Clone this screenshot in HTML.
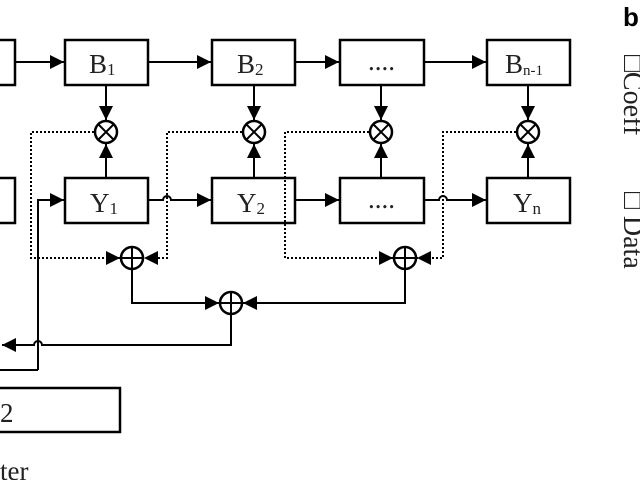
<!DOCTYPE html>
<html><head><meta charset="utf-8"><style>
html,body{margin:0;padding:0;background:#fff;width:640px;height:480px;overflow:hidden}
</style></head><body>
<svg width="640" height="480" viewBox="0 0 640 480" xmlns="http://www.w3.org/2000/svg" font-family="Liberation Serif, serif">
<defs>
<marker id="b" viewBox="0 0 10 10" refX="10" refY="5" markerWidth="14" markerHeight="14" markerUnits="userSpaceOnUse" orient="auto"><path d="M0,0 L10,5 L0,10z" fill="#000"/></marker>
</defs>
<g stroke="#000" stroke-width="2.5" fill="#fff">
<rect x="-5" y="40" width="20" height="45"/>
<rect x="65" y="40" width="83" height="45"/>
<rect x="212" y="40" width="83" height="45"/>
<rect x="340" y="40" width="84" height="45"/>
<rect x="487" y="40" width="83" height="45"/>
<rect x="-5" y="178" width="20" height="45"/>
<rect x="65" y="178" width="83" height="45"/>
<rect x="212" y="178" width="83" height="45"/>
<rect x="340" y="178" width="84" height="45"/>
<rect x="487" y="178" width="83" height="45"/>
<rect x="-5" y="388" width="125" height="44"/>
</g>
<g stroke="#000" stroke-width="2" fill="none" marker-end="url(#b)">
<line x1="15" y1="62" x2="64" y2="62"/>
<line x1="148" y1="62" x2="211" y2="62"/>
<line x1="295" y1="62" x2="339" y2="62"/>
<line x1="424" y1="62" x2="486" y2="62"/>
<line x1="106" y1="85" x2="106" y2="120"/>
<line x1="254" y1="85" x2="254" y2="120"/>
<line x1="381" y1="85" x2="381" y2="120"/>
<line x1="528" y1="85" x2="528" y2="120"/>
<line x1="106" y1="178" x2="106" y2="144"/>
<line x1="254" y1="178" x2="254" y2="144"/>
<line x1="381" y1="178" x2="381" y2="144"/>
<line x1="528" y1="178" x2="528" y2="144"/>
<path d="M148,200 H163 a4,4 0 0 1 8,0 H211"/>
<path d="M295,200 H339"/>
<path d="M424,200 H439 a4,4 0 0 1 8,0 H486"/>
<path d="M38,370 V200 H64"/>
<path d="M132,270 V303 H219"/>
<path d="M405,270 V303 H243"/>
<path d="M231,315 V345 H42 a4,4 0 0 0 -8,0 H2"/>
</g>
<path d="M38,370 H0" stroke="#000" stroke-width="2" fill="none"/>
<g stroke="#000" stroke-width="2" fill="none" stroke-dasharray="2,2" marker-end="url(#b)">
<path d="M94,132 H31 V258 H120"/>
<path d="M242,132 H167 V258 H144"/>
<path d="M369,132 H285 V258 H393"/>
<path d="M516,132 H443 V258 H417"/>
</g>
<g stroke="#000" stroke-width="2.5" fill="#fff">
<circle cx="106" cy="132" r="11"/><circle cx="254" cy="132" r="11"/>
<circle cx="381" cy="132" r="11"/><circle cx="528" cy="132" r="11"/>
<circle cx="132" cy="258" r="11"/><circle cx="231" cy="303" r="11"/><circle cx="405" cy="258" r="11"/>
</g>
<g stroke="#000" stroke-width="2">
<path d="M99,125 l14,14 M113,125 l-14,14 M247,125 l14,14 M261,125 l-14,14 M374,125 l14,14 M388,125 l-14,14 M521,125 l14,14 M535,125 l-14,14"/>
<path d="M121,258 h22 M132,247 v22 M220,303 h22 M231,292 v22 M394,258 h22 M405,247 v22"/>
</g>
<g font-size="27" fill="#222">
<text x="89" y="73">B<tspan font-size="17" dy="2">1</tspan></text>
<text x="237" y="73">B<tspan font-size="17" dy="2">2</tspan></text>
<text x="368" y="70">....</text>
<text x="505" y="73">B<tspan font-size="15" dy="2">n-1</tspan></text>
<text x="90" y="212">Y<tspan font-size="17" dy="2">1</tspan></text>
<text x="237" y="212">Y<tspan font-size="17" dy="2">2</tspan></text>
<text x="368" y="208">....</text>
<text x="513" y="212">Y<tspan font-size="17" dy="2">n</tspan></text>
<text x="0" y="422">2</text>
<text x="0" y="480">ter</text>
</g>
<text x="623" y="26" font-family="Liberation Sans, sans-serif" font-weight="bold" font-size="26">b</text>
<g font-family="Liberation Serif, serif" font-size="28" fill="#222">
<text transform="translate(624,55) rotate(90)">□Coeff</text>
<text transform="translate(624,192) rotate(90)">□ Data</text>
</g>
</svg>
</body></html>
